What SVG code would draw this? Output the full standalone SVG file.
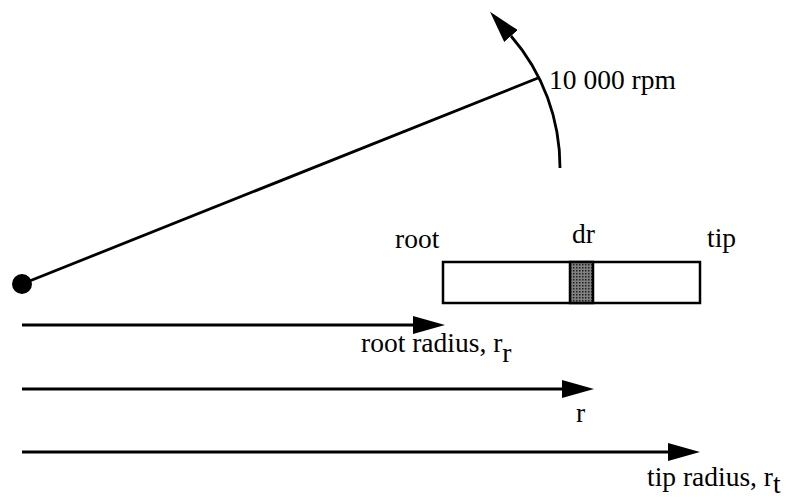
<svg xmlns="http://www.w3.org/2000/svg" width="789" height="498" viewBox="0 0 789 498">
<style>
text{font-family:"Liberation Serif","Times New Roman",serif;font-size:27.5px;fill:#000}
.ln{stroke:#000;stroke-width:2.8;fill:none}
</style>
<defs>
<marker id="ah" markerUnits="userSpaceOnUse" markerWidth="32" markerHeight="18" viewBox="0 0 32 18" refX="0" refY="9" orient="auto">
<path d="M0,0 L32,9 L0,18 Z" fill="#000"/>
</marker>
<pattern id="stip" width="3" height="3" patternUnits="userSpaceOnUse">
<rect width="3" height="3" fill="#808080"/>
<rect width="1.5" height="1.5" fill="#222"/>
</pattern>
</defs>
<g id="hub">
<circle cx="22" cy="284" r="10" fill="#000"/>
</g>
<g id="blade">
<rect x="443" y="262" width="257" height="41" fill="#fff" stroke="#000" stroke-width="2.5"/>
<rect x="570" y="262" width="23" height="41" fill="url(#stip)" stroke="#000" stroke-width="2.5"/>
<text x="395" y="248">root</text>
<text x="572" y="243">dr</text>
<text x="707" y="247">tip</text>
</g>
<g id="connectors">
<line class="ln" x1="22" y1="284" x2="538" y2="78"/>
<path class="ln" d="M560,168 A200,200 0 0 0 511,36" marker-end="url(#ah)"/>
<line class="ln" x1="22" y1="325" x2="413" y2="325" marker-end="url(#ah)"/>
<line class="ln" x1="22" y1="389" x2="562" y2="389" marker-end="url(#ah)"/>
<line class="ln" x1="22" y1="452" x2="668" y2="452" marker-end="url(#ah)"/>
</g>
<g id="labels">
<text x="549" y="89">10 000 rpm</text>
<text x="361" y="352">root radius, r<tspan dy="10">r</tspan></text>
<text x="576" y="422">r</text>
<text x="647" y="486">tip radius, r<tspan dy="7">t</tspan></text>
</g>
</svg>
